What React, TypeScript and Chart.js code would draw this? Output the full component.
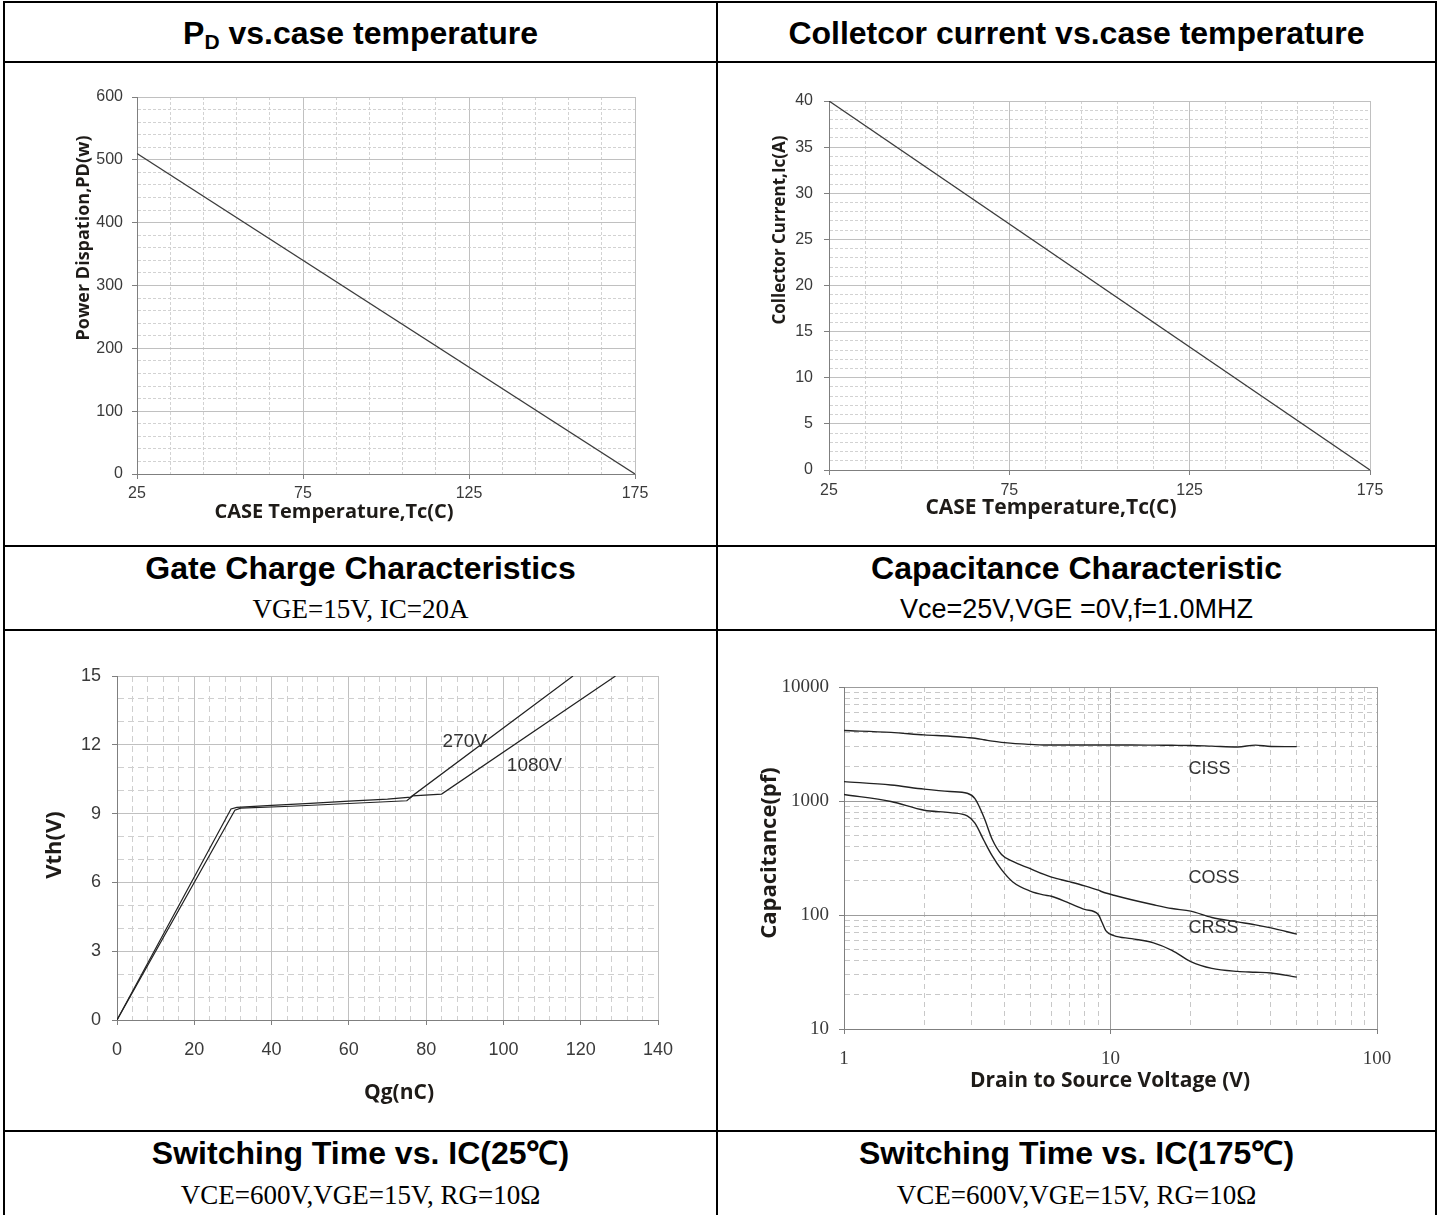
import React, { useEffect, useRef } from "react";
import { Chart, registerables } from "chart.js";

Chart.register(...registerables);

/* ================= DATA ================= */
// P_D vs. case temperature
const PD_CASE_TEMP = [25, 175];
const PD_POWER = [510, 0];
const PD_X_TICKS = [25, 75, 125, 175];
const PD_Y_TICKS = [0, 100, 200, 300, 400, 500, 600];

// Collector current vs. case temperature
const IC_CASE_TEMP = [25, 175];
const IC_CURRENT = [40, 0];
const IC_X_TICKS = [25, 75, 125, 175];
const IC_Y_TICKS = [0, 5, 10, 15, 20, 25, 30, 35, 40];

// Gate charge characteristics
const QG_270V = [0, 29.5, 31, 40, 50, 60, 70, 76, 118];
const VTH_270V = [0, 9.2, 9.27, 9.36, 9.45, 9.54, 9.63, 9.72, 15];
const QG_1080V = [0, 30.5, 32, 45, 60, 75, 76.5, 84, 129];
const VTH_1080V = [0, 9.15, 9.24, 9.32, 9.44, 9.56, 9.77, 9.85, 15];
const QG_X_TICKS = [0, 20, 40, 60, 80, 100, 120, 140];
const VTH_Y_TICKS = [0, 3, 6, 9, 12, 15];
const GC_SERIES_LABELS = ["270V", "1080V"];
const GC_LABEL_QG = [90, 108];
const GC_LABEL_VTH = [12.15, 11.1];

// Capacitance characteristic
const VDS = [1, 1.5, 2, 2.5, 2.9, 3.1, 3.35, 3.6, 3.9, 4.3, 5, 5.6, 6, 7, 8, 9, 9.3, 9.6, 10.3, 12, 14.5, 17, 20, 24, 30, 35, 40, 50];
const CISS = [4150, 4000, 3800, 3700, 3600, 3550, 3450, 3350, 3270, 3200, 3140, 3100, 3100, 3100, 3100, 3100, 3100, 3100, 3100, 3100, 3090, 3080, 3070, 3030, 2980, 3090, 3010, 3000];
const COSS = [1480, 1380, 1270, 1210, 1170, 1050, 720, 460, 340, 295, 255, 228, 215, 196, 180, 165, 160, 156, 149, 136, 123, 114, 108, 95, 87, 82, 77, 68];
const CRSS = [1140, 990, 830, 790, 740, 640, 450, 330, 250, 195, 162, 150, 146, 127, 112, 101, 86, 73, 66, 62, 57, 49, 39, 34, 32, 31.5, 31, 28.5];
const CAP_X_TICKS = [1, 10, 100];
const CAP_Y_TICKS = [10, 100, 1000, 10000];
const CAP_SERIES_LABELS = ["CISS", "COSS", "CRSS"];
const CAP_LABEL_VDS = [19.6, 19.6, 19.6];
const CAP_LABEL_C = [1900, 211, 77];

/* ================= STYLE ================= */
const AXIS_COLOR = "#7f7f7f";
const TICK_COLOR = "#3a3a3a";
const TITLE_COLOR = "#1e1b18";
const LINE_COLOR = "#3c3c3c";
const SANS = "'Liberation Sans', Arial, sans-serif";
const SERIF = "'Liberation Serif', 'Times New Roman', serif";
const AXIS_TITLE_FAMILY = "'Open Sans', 'Noto Sans', sans-serif";

type AxisSpec = {
  log?: boolean;
  min: number;
  max: number;
  majors: number[];
  minorStep?: number;
  size: number;
  labelPad: number;
  tickFont: { family: string; size: number };
  majorColor: string;
  minorColor: string;
  dash: number[];
};

type TextItem = {
  text: string;
  font: string;
  color: string;
  pageX?: number;
  pageY?: number;
  dataX?: number;
  dataY?: number;
  rotate?: number;
  align?: CanvasTextAlign;
};

type Series = { xs: number[]; ys: number[]; color: string; width: number; smooth?: boolean };

type PanelSpec = {
  box: { left: number; top: number; width: number; height: number };
  plot: { L: number; T: number; R: number; B: number };
  x: AxisSpec;
  y: AxisSpec;
  series: Series[];
  texts: TextItem[];
};

function gridValues(a: AxisSpec): number[] {
  const out: number[] = [];
  if (a.log) {
    for (let d = a.min; d <= a.max * 1.000001; d *= 10) {
      for (let k = 1; k <= 9; k++) {
        const v = Number((k * d).toPrecision(8));
        if (v <= a.max * 1.000001) out.push(v);
      }
    }
  } else {
    const step = a.minorStep || 1;
    const n = Math.round((a.max - a.min) / step);
    for (let i = 0; i <= n; i++) out.push(Number((a.min + i * step).toFixed(6)));
  }
  return out;
}

function scaleConfig(a: AxisSpec, horizontal: boolean) {
  const values = gridValues(a);
  const isMajor = (v: number) =>
    a.majors.some((m) => Math.abs(m - v) <= 1e-6 * Math.max(1, Math.abs(m)));
  const tickVal = (c: any) => (c && c.tick ? c.tick.value : NaN);
  return {
    type: a.log ? "logarithmic" : "linear",
    position: horizontal ? "bottom" : "left",
    min: a.min,
    max: a.max,
    afterBuildTicks: (s: any) => {
      s.ticks = values.map((v) => ({ value: v }));
    },
    afterFit: (s: any) => {
      if (horizontal) s.height = a.size;
      else s.width = a.size;
      s.paddingLeft = 0;
      s.paddingRight = 0;
      s.paddingTop = 0;
      s.paddingBottom = 0;
    },
    ticks: {
      autoSkip: false,
      maxRotation: 0,
      minRotation: 0,
      padding: a.labelPad,
      color: TICK_COLOR,
      font: a.tickFont,
      callback: (v: any) => (isMajor(Number(v)) ? String(v) : ""),
    },
    grid: {
      color: (c: any) => (isMajor(tickVal(c)) ? a.majorColor : a.minorColor),
      lineWidth: 1,
      drawTicks: true,
      tickLength: 5,
      tickWidth: 1,
      tickColor: (c: any) => (isMajor(tickVal(c)) ? AXIS_COLOR : "rgba(0,0,0,0)"),
    },
    border: {
      display: true,
      color: AXIS_COLOR,
      width: 1,
      dash: (c: any) => (c && c.tick && !isMajor(c.tick.value) ? a.dash : []),
    },
  };
}

function textPlugin(items: TextItem[], box: PanelSpec["box"]) {
  return {
    id: "panelText",
    afterDraw(chart: any) {
      const ctx = chart.ctx;
      for (const t of items) {
        let x: number;
        let y: number;
        if (t.dataX !== undefined && t.dataY !== undefined) {
          x = chart.scales.x.getPixelForValue(t.dataX);
          y = chart.scales.y.getPixelForValue(t.dataY);
        } else {
          x = (t.pageX || 0) - box.left;
          y = (t.pageY || 0) - box.top;
        }
        ctx.save();
        ctx.translate(x, y);
        if (t.rotate) ctx.rotate(t.rotate);
        ctx.font = t.font;
        ctx.fillStyle = t.color;
        ctx.textAlign = t.align || "center";
        ctx.textBaseline = "middle";
        ctx.fillText(t.text, 0, 0);
        ctx.restore();
      }
    },
  };
}

function buildConfig(spec: PanelSpec): any {
  const { box, plot, x, y } = spec;
  return {
    type: "line",
    data: {
      datasets: spec.series.map((s) => ({
        data: s.xs.map((v, i) => ({ x: v, y: s.ys[i] })),
        borderColor: s.color,
        borderWidth: s.width,
        pointRadius: 0,
        fill: false,
        tension: 0,
        cubicInterpolationMode: s.smooth ? "monotone" : "default",
      })),
    },
    options: {
      responsive: false,
      animation: false,
      devicePixelRatio: 1,
      parsing: true,
      layout: {
        padding: {
          left: plot.L - box.left - y.size,
          top: plot.T - box.top,
          right: box.left + box.width - plot.R,
          bottom: box.top + box.height - plot.B - x.size,
        },
      },
      plugins: { legend: { display: false }, tooltip: { enabled: false }, title: { display: false } },
      scales: { x: scaleConfig(x, true), y: scaleConfig(y, false) },
    },
    plugins: [textPlugin(spec.texts, box)],
  };
}

function Panel({ spec }: { spec: PanelSpec }) {
  const ref = useRef<HTMLCanvasElement | null>(null);
  useEffect(() => {
    if (!ref.current) return;
    const chart = new Chart(ref.current, buildConfig(spec));
    return () => chart.destroy();
  }, [spec]);
  return (
    <canvas
      ref={ref}
      width={spec.box.width}
      height={spec.box.height}
      style={{
        position: "absolute",
        left: spec.box.left,
        top: spec.box.top,
        width: spec.box.width,
        height: spec.box.height,
      }}
    />
  );
}

/* ================= PANELS ================= */
const smallTick = { family: SANS, size: 16 };
const ROT = -Math.PI / 2;

const pdPanel: PanelSpec = {
  box: { left: 5, top: 63, width: 711, height: 482 },
  plot: { L: 137, T: 97, R: 635, B: 474 },
  x: { min: 25, max: 175, majors: PD_X_TICKS, minorStep: 10, size: 40, labelPad: 5, tickFont: smallTick, majorColor: "#c0c0c0", minorColor: "#d2d2d2", dash: [3, 2] },
  y: { min: 0, max: 600, majors: PD_Y_TICKS, minorStep: 20, size: 60, labelPad: 9, tickFont: smallTick, majorColor: "#c0c0c0", minorColor: "#d2d2d2", dash: [3, 2] },
  series: [{ xs: PD_CASE_TEMP, ys: PD_POWER, color: LINE_COLOR, width: 1.3 }],
  texts: [
    { text: "Power Dispation,PD(w)", font: `bold 18px ${AXIS_TITLE_FAMILY}`, color: TITLE_COLOR, pageX: 84, pageY: 238, rotate: ROT },
    { text: "CASE Temperature,Tc(C)", font: `bold 20px ${AXIS_TITLE_FAMILY}`, color: TITLE_COLOR, pageX: 334, pageY: 512 },
  ],
};

const icPanel: PanelSpec = {
  box: { left: 718, top: 63, width: 717, height: 482 },
  plot: { L: 829, T: 101, R: 1370, B: 470 },
  x: { min: 25, max: 175, majors: IC_X_TICKS, minorStep: 10, size: 40, labelPad: 6, tickFont: smallTick, majorColor: "#c0c0c0", minorColor: "#d2d2d2", dash: [3, 2] },
  y: { min: 0, max: 40, majors: IC_Y_TICKS, minorStep: 1, size: 50, labelPad: 11, tickFont: smallTick, majorColor: "#c0c0c0", minorColor: "#d2d2d2", dash: [3, 2] },
  series: [{ xs: IC_CASE_TEMP, ys: IC_CURRENT, color: LINE_COLOR, width: 1.3 }],
  texts: [
    { text: "Collector Current,Ic(A)", font: `bold 17px ${AXIS_TITLE_FAMILY}`, color: TITLE_COLOR, pageX: 780, pageY: 230, rotate: ROT },
    { text: "CASE Temperature,Tc(C)", font: `bold 21px ${AXIS_TITLE_FAMILY}`, color: TITLE_COLOR, pageX: 1051, pageY: 508 },
  ],
};

const gcTick = { family: SANS, size: 18 };
const gcPanel: PanelSpec = {
  box: { left: 5, top: 631, width: 711, height: 499 },
  plot: { L: 117, T: 676, R: 658, B: 1020 },
  x: { min: 0, max: 140, majors: QG_X_TICKS, minorStep: 4, size: 50, labelPad: 14, tickFont: gcTick, majorColor: "#c0c0c0", minorColor: "#cfcfcf", dash: [6, 4] },
  y: { min: 0, max: 15, majors: VTH_Y_TICKS, minorStep: 1, size: 50, labelPad: 11, tickFont: gcTick, majorColor: "#c0c0c0", minorColor: "#cfcfcf", dash: [6, 4] },
  series: [
    { xs: QG_270V, ys: VTH_270V, color: "#222", width: 1.2 },
    { xs: QG_1080V, ys: VTH_1080V, color: "#222", width: 1.2 },
  ],
  texts: [
    { text: "Vth(V)", font: `bold 22px ${AXIS_TITLE_FAMILY}`, color: TITLE_COLOR, pageX: 55, pageY: 845, rotate: ROT },
    { text: "Qg(nC)", font: `bold 21px ${AXIS_TITLE_FAMILY}`, color: TITLE_COLOR, pageX: 399, pageY: 1093 },
    ...GC_SERIES_LABELS.map((t, i) => ({
      text: t,
      font: `19px ${SANS}`,
      color: "#333",
      dataX: GC_LABEL_QG[i],
      dataY: GC_LABEL_VTH[i],
    })),
  ],
};

const capTick = { family: SERIF, size: 19 };
const capPanel: PanelSpec = {
  box: { left: 718, top: 631, width: 717, height: 499 },
  plot: { L: 844, T: 687, R: 1377, B: 1029 },
  x: { log: true, min: 1, max: 100, majors: CAP_X_TICKS, size: 50, labelPad: 14, tickFont: capTick, majorColor: "#9c9c9c", minorColor: "#c8c8c8", dash: [5, 4] },
  y: { log: true, min: 10, max: 10000, majors: CAP_Y_TICKS, size: 70, labelPad: 10, tickFont: capTick, majorColor: "#9c9c9c", minorColor: "#c8c8c8", dash: [5, 4] },
  series: [
    { xs: VDS, ys: CISS, color: "#222", width: 1.4, smooth: true },
    { xs: VDS, ys: COSS, color: "#222", width: 1.4, smooth: true },
    { xs: VDS, ys: CRSS, color: "#222", width: 1.4, smooth: true },
  ],
  texts: [
    { text: "Capacitance(pf)", font: `bold 22px ${AXIS_TITLE_FAMILY}`, color: TITLE_COLOR, pageX: 770, pageY: 853, rotate: ROT },
    { text: "Drain to Source Voltage (V)", font: `bold 21px ${AXIS_TITLE_FAMILY}`, color: TITLE_COLOR, pageX: 1110, pageY: 1081 },
    ...CAP_SERIES_LABELS.map((t, i) => ({
      text: t,
      font: `18px ${SANS}`,
      color: "#333",
      dataX: CAP_LABEL_VDS[i],
      dataY: CAP_LABEL_C[i],
      align: "left" as CanvasTextAlign,
    })),
  ],
};

/* ================= PAGE ================= */
function HLine({ top }: { top: number }) {
  return <div style={{ position: "absolute", left: 3, top, width: 1434, height: 2, background: "#000" }} />;
}
function VLine({ left }: { left: number }) {
  return <div style={{ position: "absolute", left, top: 1, width: 2, height: 1214, background: "#000" }} />;
}

function CellText({
  col,
  centerY,
  size,
  family,
  bold,
  children,
}: {
  col: 0 | 1;
  centerY: number;
  size: number;
  family: string;
  bold?: boolean;
  children: React.ReactNode;
}) {
  const left = col === 0 ? 5 : 718;
  const width = col === 0 ? 711 : 717;
  const lh = Math.round(size * 1.4);
  return (
    <div
      style={{
        position: "absolute",
        left,
        width,
        top: centerY - lh / 2,
        height: lh,
        lineHeight: `${lh}px`,
        textAlign: "center",
        fontFamily: family,
        fontSize: size,
        fontWeight: bold ? 700 : 400,
        color: "#000",
        whiteSpace: "nowrap",
      }}
    >
      {children}
    </div>
  );
}

export default function App() {
  return (
    <div
      style={{
        position: "absolute",
        left: 0,
        top: 0,
        width: 1437,
        height: 1215,
        overflow: "hidden",
        background: "#fff",
      }}
    >
      <Panel spec={pdPanel} />
      <Panel spec={icPanel} />
      <Panel spec={gcPanel} />
      <Panel spec={capPanel} />

      <CellText col={0} centerY={33} size={32} family={SANS} bold>
        P<span style={{ fontSize: 21, position: "relative", top: 5 }}>D</span> vs.case temperature
      </CellText>
      <CellText col={1} centerY={33} size={32} family={SANS} bold>
        Colletcor current vs.case temperature
      </CellText>

      <CellText col={0} centerY={568} size={32} family={SANS} bold>
        Gate Charge Characteristics
      </CellText>
      <CellText col={0} centerY={609} size={27} family={SERIF}>
        VGE=15V, IC=20A
      </CellText>
      <CellText col={1} centerY={568} size={32} family={SANS} bold>
        Capacitance Characteristic
      </CellText>
      <CellText col={1} centerY={609} size={27} family={SANS}>
        Vce=25V,VGE =0V,f=1.0MHZ
      </CellText>

      <CellText col={0} centerY={1153} size={32} family={SANS} bold>
        Switching Time vs. IC(25℃)
      </CellText>
      <CellText col={0} centerY={1195} size={27} family={SERIF}>
        VCE=600V,VGE=15V, RG=10Ω
      </CellText>
      <CellText col={1} centerY={1153} size={32} family={SANS} bold>
        Switching Time vs. IC(175℃)
      </CellText>
      <CellText col={1} centerY={1195} size={27} family={SERIF}>
        VCE=600V,VGE=15V, RG=10Ω
      </CellText>

      <HLine top={1} />
      <HLine top={61} />
      <HLine top={545} />
      <HLine top={629} />
      <HLine top={1130} />
      <VLine left={3} />
      <VLine left={716} />
      <VLine left={1435} />
    </div>
  );
}
